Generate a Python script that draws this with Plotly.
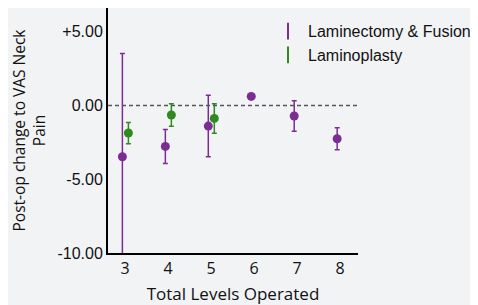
import plotly.graph_objects as go

levels = [3, 4, 5, 6, 7, 8]
lf_mean = [-3.48, -2.78, -1.40, 0.61, -0.72, -2.26]
lf_err = [7.0, 1.15, 2.08, 0.0, 1.03, 0.75]
lp_levels = [3, 4, 5]
lp_mean = [-1.87, -0.65, -0.88]
lp_err = [0.72, 0.77, 1.0]
ytick_vals = [5, 0, -5, -10]
ytick_text = ["+5.00", "0.00", "-5.00", "-10.00"]

purple = "#7b2d93"
green = "#2f8a20"
bg = "#f2f3f5"

fig = go.Figure()
fig.add_trace(go.Scatter(
    x=[v - 0.065 for v in levels], y=lf_mean, mode="markers",
    marker=dict(color=purple, size=9),
    error_y=dict(type="data", array=lf_err, visible=True, color=purple, thickness=1.5, width=2.5),
    showlegend=False, name="Laminectomy & Fusion"))
fig.add_trace(go.Scatter(
    x=[v + 0.075 for v in lp_levels], y=lp_mean, mode="markers",
    marker=dict(color=green, size=9),
    error_y=dict(type="data", array=lp_err, visible=True, color=green, thickness=1.5, width=2.5),
    showlegend=False, name="Laminoplasty"))
# legend entries
fig.add_trace(go.Scatter(x=[None], y=[None], mode="markers", name="Laminectomy & Fusion",
    marker=dict(symbol="line-ns-open", size=12, color=purple, line=dict(color=purple, width=2))))
fig.add_trace(go.Scatter(x=[None], y=[None], mode="markers", name="Laminoplasty",
    marker=dict(symbol="line-ns-open", size=12, color=green, line=dict(color=green, width=2))))

fig.add_shape(type="line", xref="paper", x0=0, x1=1, yref="y", y0=0, y1=0,
              line=dict(color="#555555", width=1.5, dash="4px,3px"))

fig.update_layout(
    width=470, height=297,
    margin=dict(l=100, r=120, t=0, b=52),
    paper_bgcolor=bg, plot_bgcolor=bg,
    font=dict(family="Liberation Sans, Arial", size=16, color="#111111"),
    legend=dict(x=0.64, y=0.975, xanchor="left", yanchor="top", bgcolor="rgba(0,0,0,0)",
                font=dict(size=16, family="Liberation Sans, Arial"), itemwidth=30,
                tracegroupgap=0),
    xaxis=dict(range=[2.6, 8.42], tickvals=levels, showgrid=False, zeroline=False,
               showline=True, linecolor="black", linewidth=2, ticks="",
               tickfont=dict(family="Open Sans", size=16),
               title=dict(text="Total Levels Operated", font=dict(family="Open Sans", size=17), standoff=10)),
    yaxis=dict(range=[-10, 6.6], tickvals=ytick_vals, ticktext=ytick_text, showgrid=False,
               zeroline=False, showline=True, linecolor="black", linewidth=2, ticks="",
               tickfont=dict(size=16),
               title=dict(text="Post-op change to VAS Neck<br>Pain", font=dict(family="Open Sans", size=15.5),
                          standoff=8)),
)

fig.write_html("out.html")
